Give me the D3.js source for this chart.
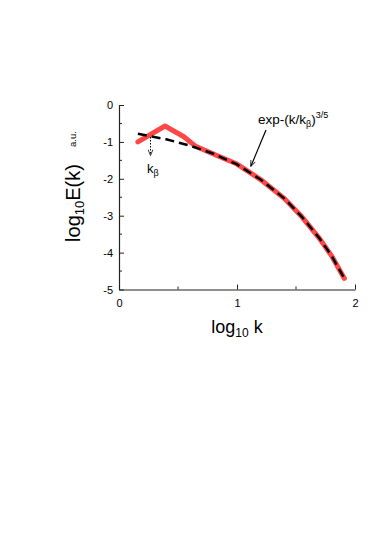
<!DOCTYPE html>
<meta charset="utf-8">
<html>
<head>
<style>
  body { margin: 0; background: #fff; }
  svg text { font-family: "Liberation Sans", Arial, sans-serif; fill: #000; }
  .axis path, .axis line { stroke: #222; }
</style>
<script src="https://d3js.org/d3.v7.min.js"></script>
</head>
<body>
<svg width="374" height="536"></svg>
<script>
  // data (log10 k, log10 E)
  var redX = [0.16, 0.39, 0.55, 0.65, 0.8, 1.0, 1.2, 1.4, 1.55, 1.7, 1.8, 1.91];
  var redY = [-1.0, -0.57, -0.86, -1.12, -1.33, -1.60, -2.02, -2.53, -3.03, -3.62, -4.08, -4.70];
  var fitX = [0.16, 0.4, 0.6, 0.8, 1.0, 1.2, 1.4, 1.55, 1.7, 1.8, 1.91];
  var fitY = [-0.78, -0.93, -1.10, -1.32, -1.61, -2.02, -2.53, -3.03, -3.62, -4.08, -4.70];
  var xTicks = [0, 1, 2];
  var yTicks = [0, -1, -2, -3, -4, -5];

  var svg = d3.select("svg");

  var x = d3.scaleLinear().domain([0, 2]).range([119, 355]);
  var y = d3.scaleLinear().domain([-5, 0]).range([289.5, 105]);

  // axes, ticks inward
  var xAxis = d3.axisBottom(x).tickValues(xTicks).tickSize(-5).tickSizeOuter(0)
      .tickFormat(d3.format("d"));
  var gx = svg.append("g").attr("class", "axis")
      .attr("transform", "translate(0," + y(-5) + ")")
      .call(xAxis);
  gx.selectAll("text").attr("font-size", 11).attr("dy", 0).attr("y", 17);
  gx.selectAll(".minor").data([0.5, 1.5]).enter().append("line")
      .attr("x1", function(d) { return x(d); }).attr("x2", function(d) { return x(d); })
      .attr("y1", 0).attr("y2", -3).attr("stroke", "#222");

  var yAxis = d3.axisLeft(y).tickValues(yTicks).tickSize(-5).tickSizeOuter(0)
      .tickFormat(function(d) { return d === 0 ? "0" : "-" + Math.abs(d); });
  var gy = svg.append("g").attr("class", "axis")
      .attr("transform", "translate(" + x(0) + ",0)")
      .call(yAxis);
  gy.selectAll("text").attr("font-size", 11).attr("x", -6);
  gy.selectAll(".minor").data([-0.5, -1.5, -2.5, -3.5, -4.5]).enter().append("line")
      .attr("y1", function(d) { return y(d); }).attr("y2", function(d) { return y(d); })
      .attr("x1", 0).attr("x2", 3).attr("stroke", "#222");
  svg.selectAll(".axis .domain").attr("stroke-width", 1.2);

  // curves
  var line = d3.line().x(function(d) { return x(d[0]); }).y(function(d) { return y(d[1]); });
  svg.append("path")
      .datum(d3.zip(redX, redY))
      .attr("d", line)
      .attr("fill", "none")
      .attr("stroke", "#ff4747")
      .attr("stroke-width", 5)
      .attr("stroke-linejoin", "round")
      .attr("stroke-linecap", "round");
  svg.append("path")
      .datum(d3.zip(fitX, fitY))
      .attr("d", line)
      .attr("fill", "none")
      .attr("stroke", "#000")
      .attr("stroke-width", 2.5)
      .attr("stroke-dasharray", "9,5");

  // arrowheads
  var defs = svg.append("defs");
  defs.append("marker").attr("id", "ah2")
      .attr("viewBox", "0 0 10 10").attr("refX", 9).attr("refY", 5)
      .attr("markerWidth", 7).attr("markerHeight", 6).attr("markerUnits", "userSpaceOnUse")
      .attr("orient", "auto")
      .append("path").attr("d", "M0,1L10,5L0,9").attr("fill", "none").attr("stroke", "#000").attr("stroke-width", 1.3);

  // k_beta marker
  svg.append("line")
      .attr("x1", 150.5).attr("y1", 137).attr("x2", 150.5).attr("y2", 155)
      .attr("stroke", "#000").attr("stroke-width", 1).attr("stroke-dasharray", "1.5,1.5")
      .attr("marker-end", "url(#ah2)");
  var kb = svg.append("text").attr("x", 147).attr("y", 173).attr("font-size", 13);
  kb.append("tspan").text("k");
  kb.append("tspan").attr("font-size", 9).attr("dy", 3).text("β");

  // fit annotation
  var ft = svg.append("text").attr("x", 258).attr("y", 124).attr("font-size", 13.5);
  ft.append("tspan").text("exp-(k/k");
  ft.append("tspan").attr("font-size", 9).attr("dy", 3).text("β");
  ft.append("tspan").attr("dy", -3).text(")");
  ft.append("tspan").attr("font-size", 9).attr("dy", -6).text("3/5");
  svg.append("line")
      .attr("x1", 266).attr("y1", 130).attr("x2", 251).attr("y2", 166)
      .attr("stroke", "#000").attr("stroke-width", 1.2)
      .attr("marker-end", "url(#ah2)");

  // axis titles
  var xt = svg.append("text").attr("x", x(1)).attr("y", 333)
      .attr("text-anchor", "middle").attr("font-size", 18);
  xt.append("tspan").text("log");
  xt.append("tspan").attr("font-size", 12).attr("dy", 4).text("10");
  xt.append("tspan").attr("dy", -4).text(" k");

  var yt = svg.append("text").attr("transform", "translate(80,203) rotate(-90)")
      .attr("text-anchor", "middle").attr("font-size", 20);
  yt.append("tspan").text("log");
  yt.append("tspan").attr("font-size", 13).attr("dy", 4).text("10");
  yt.append("tspan").attr("dy", -4).text("E(k)");
  svg.append("text").attr("transform", "translate(76,139) rotate(-90)")
      .attr("text-anchor", "middle").attr("font-size", 9.5).text("a.u.");
</script>
</body>
</html>
